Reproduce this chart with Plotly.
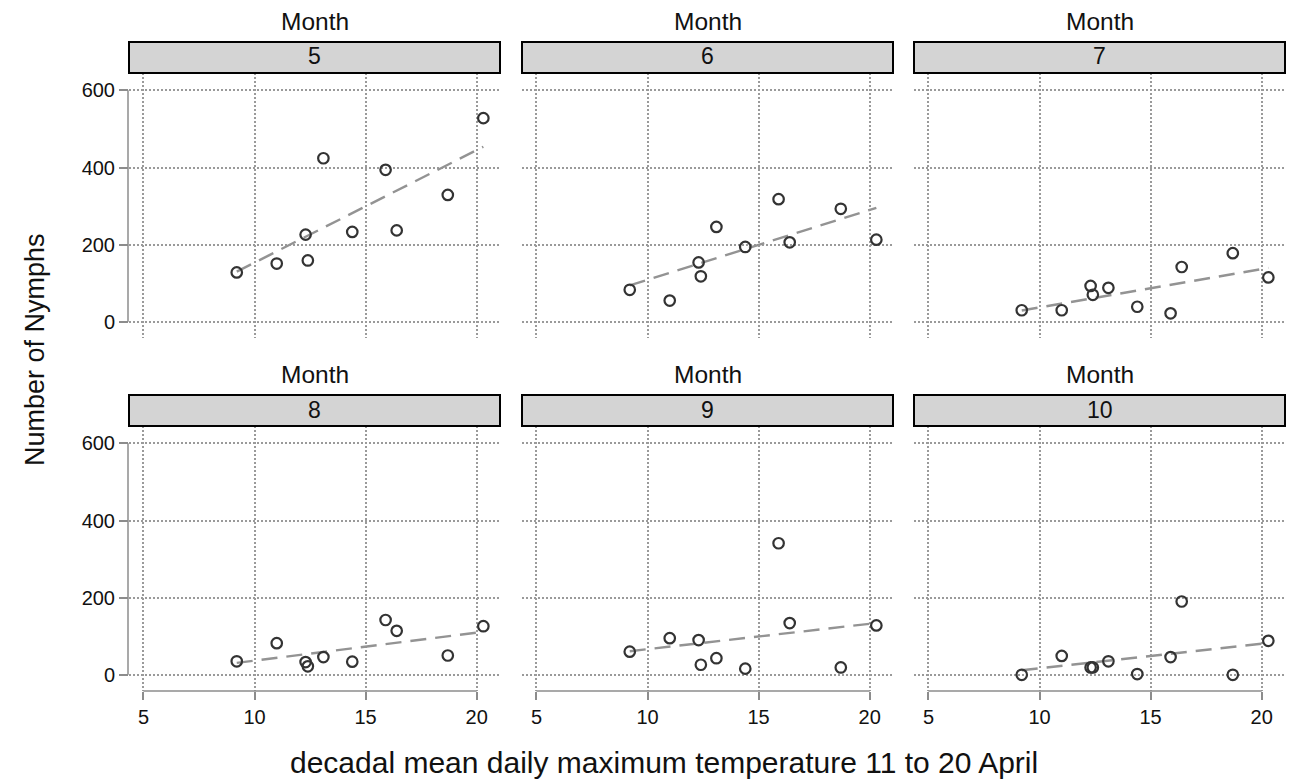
import numpy as np
import plotly.graph_objects as go

# ---------------- data ----------------
temperature = [9.2, 11.0, 12.3, 12.4, 13.1, 14.4, 15.9, 16.4, 18.7, 20.3]
months = ["5", "6", "7", "8", "9", "10"]
nymphs_m5 = [128, 151, 226, 159, 424, 233, 394, 237, 329, 528]
nymphs_m6 = [83, 55, 154, 118, 246, 194, 318, 206, 293, 213]
nymphs_m7 = [30, 30, 93, 70, 88, 39, 22, 142, 178, 115]
nymphs_m8 = [35, 82, 33, 22, 46, 34, 142, 114, 50, 126]
nymphs_m9 = [60, 95, 90, 26, 43, 16, 341, 134, 19, 128]
nymphs_m10 = [0, 49, 19, 19, 35, 2, 46, 190, 0, 88]
x_ticks = [5, 10, 15, 20]
y_ticks = [0, 200, 400, 600]
series = [nymphs_m5, nymphs_m6, nymphs_m7, nymphs_m8, nymphs_m9, nymphs_m10]

# ---------------- layout geometry (px) ----------------
W, H = 1291, 780
col_px = [(129, 500), (522, 893), (914, 1285)]
row_px = [(73, 338), (426, 691)]          # plot areas (top, bottom) in px
strip_px = [(42, 73), (395, 426)]
FONT = "Liberation Sans, Arial, sans-serif"
GRID = "#9a9a9a"
AXIS = "#8c8c8c"
GRID_DASH = "1.8px,2.2px"

def px_x(p):
    return p / W

def px_y(p):
    return 1 - p / H

fig = go.Figure()
layout = dict(
    width=W, height=H,
    margin=dict(l=0, r=0, t=0, b=0),
    paper_bgcolor="white", plot_bgcolor="white",
    showlegend=False,
    font=dict(family=FONT, color="#111"),
)
shapes = []
annotations = []

for i, (m, yv) in enumerate(zip(months, series)):
    r, c = divmod(i, 3)
    n = i + 1
    xa = "x" if n == 1 else f"x{n}"
    ya = "y" if n == 1 else f"y{n}"
    xkey = "xaxis" if n == 1 else f"xaxis{n}"
    ykey = "yaxis" if n == 1 else f"yaxis{n}"

    # OLS trend line
    b1, b0 = np.polyfit(temperature, yv, 1)
    xl = [min(temperature), max(temperature)]
    fig.add_trace(go.Scatter(
        x=xl, y=[b0 + b1 * v for v in xl], mode="lines", xaxis=xa, yaxis=ya,
        line=dict(color="#939393", width=2.4, dash="16px,9px"),
    ))
    # points
    fig.add_trace(go.Scatter(
        x=temperature, y=yv, mode="markers", xaxis=xa, yaxis=ya,
        marker=dict(symbol="circle-open", size=10.5, color="#333333",
                    line=dict(width=2.2, color="#333333")),
    ))

    bottom = r == 1
    left = c == 0
    layout[xkey] = dict(
        domain=[px_x(col_px[c][0]), px_x(col_px[c][1])],
        anchor=ya, range=[4.35, 21.05],
        tickvals=x_ticks, ticktext=[str(v) for v in x_ticks],
        showticklabels=bottom, ticks="outside" if bottom else "",
        ticklen=8, tickwidth=1.5, tickcolor=AXIS,
        tickfont=dict(size=20, family=FONT, color="#111"),
        showgrid=True, gridcolor=GRID, gridwidth=1.6, griddash=GRID_DASH,
        zeroline=False, showline=False, fixedrange=True,
    )
    layout[ykey] = dict(
        domain=[px_y(row_px[r][1]), px_y(row_px[r][0])],
        anchor=xa, range=[-42, 645],
        tickvals=y_ticks, ticktext=[str(v) for v in y_ticks],
        showticklabels=left, ticks="outside" if left else "",
        ticklen=9, tickwidth=1.5, tickcolor=AXIS,
        tickfont=dict(size=20, family=FONT, color="#111"),
        showgrid=True, gridcolor=GRID, gridwidth=1.6, griddash=GRID_DASH,
        zeroline=False, showline=False, fixedrange=True,
    )

    # strip
    shapes.append(dict(
        type="rect", xref="paper", yref="paper",
        x0=px_x(col_px[c][0]), x1=px_x(col_px[c][1]),
        y0=px_y(strip_px[r][1]), y1=px_y(strip_px[r][0]),
        fillcolor="#d4d4d4", line=dict(color="black", width=2), layer="above",
    ))
    xc = px_x((col_px[c][0] + col_px[c][1]) / 2)
    annotations.append(dict(
        text=m, x=xc, y=px_y((strip_px[r][0] + strip_px[r][1]) / 2 - 1),
        xref="paper", yref="paper", showarrow=False,
        xanchor="center", yanchor="middle",
        font=dict(size=23, family=FONT, color="#111"),
    ))
    annotations.append(dict(
        text="Month", x=xc, y=px_y(strip_px[r][0] - 21),
        xref="paper", yref="paper", showarrow=False,
        xanchor="center", yanchor="middle",
        font=dict(size=24.5, family=FONT, color="#111"),
    ))

    # axis lines spanning tick range only
    if left:
        shapes.append(dict(
            type="line", xref="paper", yref=ya,
            x0=px_x(col_px[c][0] - 1), x1=px_x(col_px[c][0] - 1),
            y0=min(y_ticks), y1=max(y_ticks),
            line=dict(color=AXIS, width=1.5),
        ))
    if bottom:
        shapes.append(dict(
            type="line", xref=xa, yref="paper",
            x0=min(x_ticks), x1=max(x_ticks),
            y0=px_y(row_px[r][1]), y1=px_y(row_px[r][1]),
            line=dict(color=AXIS, width=1.5),
        ))

annotations.append(dict(
    text="Number of Nymphs", x=px_x(35), y=px_y(350), xref="paper", yref="paper",
    showarrow=False, textangle=-90, xanchor="center", yanchor="middle",
    font=dict(size=27, family=FONT, color="#111"),
))
annotations.append(dict(
    text="decadal mean daily maximum temperature 11 to 20 April",
    x=px_x(664), y=px_y(762), xref="paper", yref="paper",
    showarrow=False, xanchor="center", yanchor="middle",
    font=dict(size=30, family=FONT, color="#111"),
))

layout["shapes"] = shapes
layout["annotations"] = annotations
fig.update_layout(**layout)
fig.write_html("out.html")
